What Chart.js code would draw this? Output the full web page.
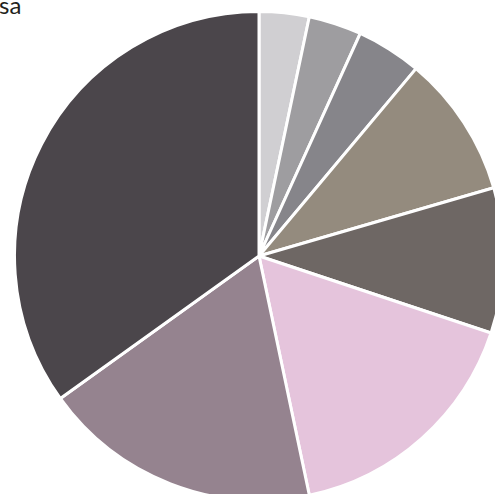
<!DOCTYPE html>
<html>
<head>
<meta charset="utf-8">
<script src="https://cdn.jsdelivr.net/npm/chart.js@4/dist/chart.umd.min.js"></script>
<style>
  html, body { margin: 0; padding: 0; background: #fff; overflow: hidden; width: 495px; height: 494px; }
  #title { position: absolute; left: -1px; top: -7px; font-family: Lato, sans-serif; font-size: 24px; line-height: 1; color: #231f20; white-space: nowrap; }
  #wrap { position: absolute; left: 9px; top: 6px; width: 500px; height: 500px; }
</style>
</head>
<body>
<div id="title">sa</div>
<div id="wrap"><canvas id="myChart"></canvas></div>
<script>
// slices clockwise from 12 o'clock (percent)
const labels = ["A", "B", "C", "D", "E", "F", "G", "H"];
const values = [3.3, 3.5, 4.3, 9.4, 9.6, 16.6, 18.4, 34.9];
const colors = ["#d0cfd2", "#9e9da0", "#86858a", "#948b7e", "#6e6764", "#e5c4dc", "#95838f", "#4b464b"];

const canva = document.getElementById("myChart");

var myPie = new Chart(canva.getContext("2d"), {
  type: "pie",
  data: {
    labels: labels,
    datasets: [{
      data: values,
      backgroundColor: colors,
      borderColor: "#ffffff",
      borderWidth: 3,
      hoverOffset: 0,
    }],
  },
  options: {
    responsive: true,
    maintainAspectRatio: false,
    animation: false,
    layout: { padding: 4 },
    plugins: {
      legend: { display: false },
      tooltip: { enabled: false },
    },
  },
});
</script>
</body>
</html>
